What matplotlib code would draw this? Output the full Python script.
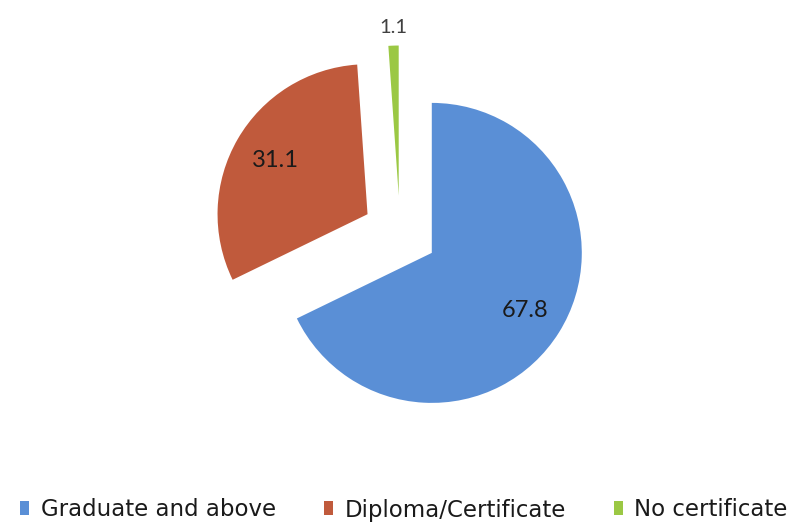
import matplotlib
matplotlib.use("Agg")
import matplotlib.pyplot as plt
from matplotlib.patches import Patch
import numpy as np

categories = ["Graduate and above", "Diploma/Certificate", "No certificate"]
values = [67.8, 31.1, 1.1]
value_labels = ["67.8", "31.1", "1.1"]
colors = ["#5A8FD6", "#C05A3C", "#9BC844"]

plt.rcParams['font.family'] = ['Lato', 'DejaVu Sans']

W, H = 798, 525
fig = plt.figure(figsize=(W / 100, H / 100), dpi=100)
ax = fig.add_axes([0, 0, 1, 1])

R_PX = 150.0
cx, cy = 400.0, 233.0  # pie centre in pixels (from top-left)

wedges, _ = ax.pie(values, colors=colors, startangle=90, counterclock=False,
                   explode=[0.25, 0.25, 0.25], radius=1.0, center=(0, 0),
                   wedgeprops=dict(linewidth=0))

ax.set_xlim(-cx / R_PX, (W - cx) / R_PX)
ax.set_ylim(-(H - cy) / R_PX, cy / R_PX)
ax.set_aspect('auto')
ax.axis('off')

label_dist = [0.73, 0.71, 1.12]
label_size = [17, 17, 14.5]
label_color = ["#1a1a1a", "#1a1a1a", "#404040"]
for w, lab, d, s, c in zip(wedges, value_labels, label_dist, label_size, label_color):
    thetam = np.deg2rad(0.5 * (w.theta1 + w.theta2))
    x = w.center[0] + d * w.r * np.cos(thetam)
    y = w.center[1] + d * w.r * np.sin(thetam)
    ax.text(x, y, lab, ha='center', va='center', fontsize=s, color=c)

fs = 16.5
handles = [Patch(facecolor=c, edgecolor='none') for c in colors]
fig.legend(handles, categories, loc='center', bbox_to_anchor=(404 / W, 1 - 510 / H),
           ncol=3, frameon=False, prop={'family': ['DejaVu Sans'], 'size': fs},
           handlelength=9 / (fs * 1.389), handleheight=13 / (fs * 1.389),
           handletextpad=0.5, columnspacing=2.1, labelcolor='#1a1a1a',
           borderpad=0, borderaxespad=0)

fig.savefig("out.png", dpi=100, facecolor='white')
